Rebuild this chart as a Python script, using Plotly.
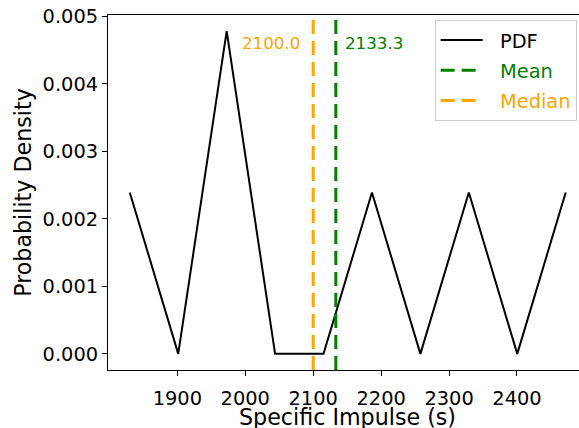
import plotly.graph_objects as go

# Histogram-style probability density of specific impulse samples
isp_centers = [1830.0, 1901.3, 1972.6, 2043.9, 2115.2, 2186.5, 2257.8, 2329.1, 2400.4, 2471.7]
pdf_values = [0.00239, 0.0, 0.00478, 0.0, 0.0, 0.00239, 0.0, 0.00239, 0.0, 0.00239]

mean_isp = 2133.3
median_isp = 2100.0

x_ticks = [1900, 2000, 2100, 2200, 2300, 2400]
y_ticks = [0.000, 0.001, 0.002, 0.003, 0.004, 0.005]

X_RANGE = [1797.9, 2491.3]
X_FULL_RIGHT = 2503.8          # axis right limit before the figure edge clips it
Y_RANGE = [-0.000239, 0.005018]

FONT = "DejaVu Sans"
GREEN = "#008000"
ORANGE = "#FFA500"
PAD = "\u00a0\u00a0"

fig = go.Figure()

fig.add_trace(go.Scatter(
    x=isp_centers, y=pdf_values, mode="lines", name=PAD + "PDF",
    line=dict(color="black", width=2), legendgroup="pdf",
))
fig.add_trace(go.Scatter(
    x=[mean_isp, mean_isp], y=Y_RANGE, mode="lines",
    name=f"{PAD}<span style='color:{GREEN}'>Mean</span>",
    line=dict(color=GREEN, width=3, dash="14px,7px"), legendgroup="mean",
))
fig.add_trace(go.Scatter(
    x=[median_isp, median_isp], y=Y_RANGE, mode="lines",
    name=f"{PAD}<span style='color:{ORANGE}'>Median</span>",
    line=dict(color=ORANGE, width=3, dash="14px,7px"), legendgroup="median",
))

# value labels beside the two reference lines
fig.add_annotation(x=median_isp, y=0.0046, text=f"{median_isp:.1f}",
                   showarrow=False, xanchor="right", yanchor="middle", xshift=-11,
                   font=dict(family=FONT, size=16.7, color=ORANGE))
fig.add_annotation(x=mean_isp, y=0.0046, text=f"{mean_isp:.1f}",
                   showarrow=False, xanchor="left", yanchor="middle", xshift=7,
                   font=dict(family=FONT, size=16.7, color=GREEN))

# x-axis title, centred on the full (unclipped) axis span
fig.add_annotation(x=(X_RANGE[0] + X_FULL_RIGHT) / 2, xref="x", y=0, yref="paper",
                   text="Specific Impulse (s)", showarrow=False, borderpad=0,
                   xanchor="center", yanchor="top", yshift=-33,
                   font=dict(family=FONT, size=22.2, color="black"))

axis_common = dict(
    showgrid=False, zeroline=False, showline=True, linecolor="black", linewidth=1,
    ticks="outside", ticklen=5, tickwidth=1, tickcolor="black",
    tickfont=dict(family=FONT, size=19.4, color="black"), automargin=False,
)

fig.update_xaxes(
    range=X_RANGE, tickvals=x_ticks, ticktext=[str(v) for v in x_ticks], mirror=True,
    ticklabelstandoff=6,
    **axis_common,
)
fig.update_yaxes(
    range=Y_RANGE, tickvals=y_ticks, ticktext=[f"{v:.3f}" for v in y_ticks],
    title=dict(text="Probability Density", font=dict(family=FONT, size=22.2, color="black"), standoff=4),
    **axis_common,
)

fig.update_layout(
    width=579, height=428,
    margin=dict(l=108, r=0, t=15, b=58),
    paper_bgcolor="white", plot_bgcolor="white",
    font=dict(family=FONT, color="black"),
    legend=dict(
        x=0.995, y=0.986, xanchor="right", yanchor="top",
        bgcolor="rgba(255,255,255,0.8)", bordercolor="#cccccc", borderwidth=1,
        font=dict(family=FONT, size=19.4, color="black"),
        tracegroupgap=2, itemwidth=42,
    ),
)

fig.write_html("out.html")
